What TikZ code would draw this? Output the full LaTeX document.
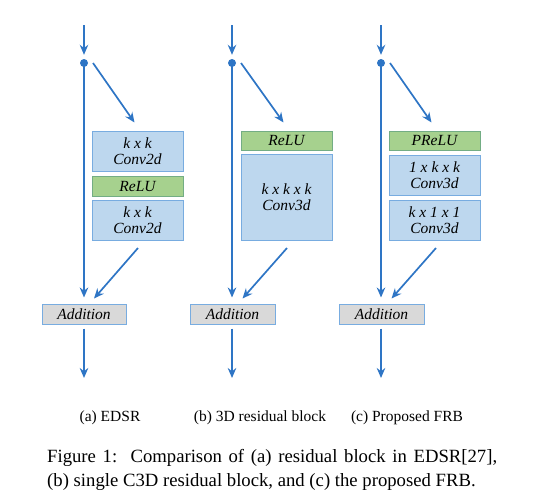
\documentclass[tikz,border=0pt]{standalone}
\usepackage{fontspec}
\setmainfont{Liberation Serif}
\usetikzlibrary{arrows.meta}
\definecolor{lineblue}{RGB}{46,117,197}
\definecolor{boxblue}{RGB}{189,215,238}
\definecolor{boxedge}{RGB}{120,172,224}
\definecolor{boxgreen}{RGB}{166,209,142}
\definecolor{greenedge}{RGB}{112,173,71}
\definecolor{boxgray}{RGB}{217,217,217}
\tikzset{
  flow/.style={draw=lineblue, line width=1.7pt, -{Stealth[length=10pt,width=8.5pt]}},
  convbox/.style={draw=boxedge, fill=boxblue, line width=1pt, inner sep=0pt, align=center, font=\fontsize{15.5}{16.5}\selectfont\itshape},
  actbox/.style={draw=greenedge!60!boxedge, fill=boxgreen, line width=1pt, inner sep=0pt, align=center, font=\fontsize{15.5}{16.5}\selectfont\itshape},
  addbox/.style={draw=boxedge, fill=boxgray, line width=1pt, inner sep=0pt, align=center, font=\fontsize{15.5}{16.5}\selectfont\itshape},
  dotnode/.style={circle, fill=lineblue, inner sep=0pt, minimum size=8pt},
  subcap/.style={font=\fontsize{15.5}{17}\selectfont},
  figcap/.style={font=\fontsize{18.7}{20}\selectfont, anchor=west, inner sep=0pt}
}
\begin{document}
\begin{tikzpicture}[x=1pt,y=-1pt]
\useasboundingbox (0,0) rectangle (553,501);
% ---------- (a) ----------
\coordinate (a0) at (84,25);
\node[dotnode] (ad) at (84,63) {};
\node[convbox, minimum width=91pt, minimum height=40pt] (ac1) at (137.5,151) {k x k\\Conv2d};
\node[actbox, minimum width=91pt, minimum height=20pt] (ar) at (137.5,186) {ReLU};
\node[convbox, minimum width=91pt, minimum height=40pt] (ac2) at (137.5,220) {k x k\\Conv2d};
\node[addbox, minimum width=84pt, minimum height=20pt] (aa) at (84,314) {Addition};
\coordinate (aout) at (84,378);
\coordinate (as1) at (93,63);
\coordinate (as2) at (138,248);
\draw[flow] (a0) -- ([yshift=4pt]ad.north);
\draw[flow] (ad.center) -- ([yshift=6pt]aa.north);
\draw[flow] (as1) -- ([xshift=-3pt,yshift=8pt]ac1.north);
\draw[flow] (as2) -- ([xshift=10pt,yshift=5pt]aa.north);
\draw[flow] ([yshift=-4pt]aa.south) -- (aout);
% ---------- (b) ----------
\coordinate (b0) at (232,25);
\node[dotnode] (bd) at (232,63) {};
\node[actbox, minimum width=91pt, minimum height=19pt] (br) at (286.5,140.5) {ReLU};
\node[convbox, minimum width=91pt, minimum height=86pt] (bc) at (286.5,197) {k x k x k\\Conv3d};
\node[addbox, minimum width=85pt, minimum height=20pt] (ba) at (232.5,314) {Addition};
\coordinate (bout) at (232,378);
\coordinate (bs1) at (241,63);
\coordinate (bs2) at (287,248);
\draw[flow] (b0) -- ([yshift=4pt]bd.north);
\draw[flow] (bd.center) -- ([yshift=6pt]ba.north -| bd);
\draw[flow] (bs1) -- ([xshift=-3pt,yshift=8pt]br.north);
\draw[flow] (bs2) -- ([xshift=10pt,yshift=5pt]ba.north);
\draw[flow] ([yshift=-4pt]ba.south -| bd) -- (bout);
% ---------- (c) ----------
\coordinate (c0) at (381,25);
\node[dotnode] (cd) at (381,63) {};
\node[actbox, minimum width=91pt, minimum height=19pt] (cr) at (434.5,140.5) {PReLU};
\node[convbox, minimum width=91pt, minimum height=40pt] (cc1) at (434.5,175) {1 x k x k\\Conv3d};
\node[convbox, minimum width=91pt, minimum height=40pt] (cc2) at (434.5,220) {k x 1 x 1\\Conv3d};
\node[addbox, minimum width=85pt, minimum height=20pt] (ca) at (381.5,314) {Addition};
\coordinate (cout) at (381,378);
\coordinate (cs1) at (390,63);
\coordinate (cs2) at (436,248);
\draw[flow] (c0) -- ([yshift=4pt]cd.north);
\draw[flow] (cd.center) -- ([yshift=6pt]ca.north -| cd);
\draw[flow] (cs1) -- ([xshift=-3pt,yshift=8pt]cr.north);
\draw[flow] (cs2) -- ([xshift=10pt,yshift=5pt]ca.north);
\draw[flow] ([yshift=-4pt]ca.south -| cd) -- (cout);
% ---------- captions ----------
\node[subcap] (la) at (110,418) {(a) EDSR};
\node[subcap] (lb) at (260,418) {(b) 3D residual block};
\node[subcap] (lc) at (407,418) {(c) Proposed FRB};
\node[figcap] (f1) at (47,458) {\makebox[450pt][s]{Figure 1:\ \ Comparison of (a) residual block in EDSR[27],}};
\node[figcap] (f2) at (47,482) {(b) single C3D residual block, and (c) the proposed FRB.};
\end{tikzpicture}
\end{document}
